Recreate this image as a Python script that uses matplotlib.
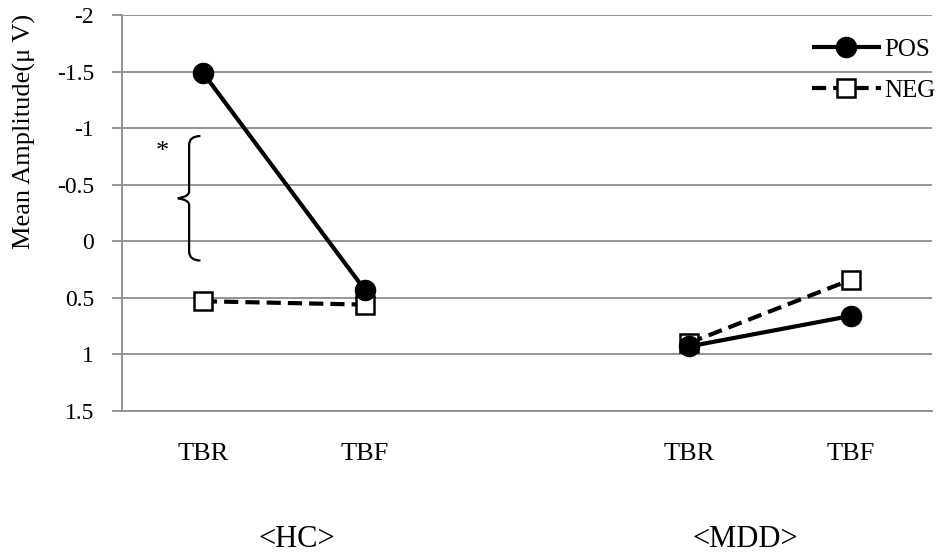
import matplotlib
matplotlib.use("Agg")
import matplotlib.pyplot as plt
from matplotlib.path import Path
from matplotlib.patches import PathPatch
from matplotlib.lines import Line2D

plt.rcParams['font.family'] = ['Liberation Serif', 'DejaVu Serif']

# Data
conditions = ["TBR", "TBF", "", "TBR", "TBF"]
groups = ["<HC>", "<MDD>"]
pos_hc = [-1.49, 0.43]
neg_hc = [0.53, 0.56]
pos_mdd = [0.93, 0.66]
neg_mdd = [0.90, 0.34]
yticks = [-2, -1.5, -1, -0.5, 0, 0.5, 1, 1.5]
ytick_labels = ["-2", "-1.5", "-1", "-0.5", "0", "0.5", "1", "1.5"]
ylabel = "Mean Amplitude(\u03bc V)"
sig_range = (-0.93, 0.17)

fig = plt.figure(figsize=(9.45, 5.55), dpi=100)
ax = fig.add_axes([0.129, 0.2595, 0.857, 0.7135])

x_hc = [0, 1]
x_mdd = [3, 4]
grid_c = "#8c8c8c"

line_kw_pos = dict(color="black", lw=3.0, marker="o", markersize=14.5, markerfacecolor="black",
                   markeredgecolor="black", solid_capstyle="butt")
line_kw_neg = dict(color="black", lw=3.0, ls=(0, (3.4, 1.7)), marker="s", markersize=13.5,
                   markerfacecolor="white", markeredgecolor="black", markeredgewidth=1.8)

ax.plot(x_hc, neg_hc, zorder=3, **line_kw_neg)
ax.plot(x_mdd, neg_mdd, zorder=3, **line_kw_neg)
ax.plot(x_hc, pos_hc, zorder=4, **line_kw_pos)
ax.plot(x_mdd, pos_mdd, zorder=4, **line_kw_pos)

ax.set_xlim(-0.5, 4.5)
ax.set_ylim(1.5, -2)
ax.set_yticks(yticks)
ax.set_yticklabels(ytick_labels, fontsize=17)
ax.set_xticks(range(len(conditions)))
ax.set_xticklabels(conditions, fontsize=19)
ax.tick_params(axis='x', length=0, pad=23)
ax.tick_params(axis='y', length=7, color=grid_c, width=1.3, pad=13)
ax.yaxis.grid(True, color=grid_c, lw=1.3)
ax.set_axisbelow(True)
for s in ["top", "right"]:
    ax.spines[s].set_visible(False)
for s in ["left", "bottom"]:
    ax.spines[s].set_color(grid_c)
    ax.spines[s].set_linewidth(1.3)

fig.text(24 / 945, 1 - 131 / 555, ylabel, rotation=90, ha="center", va="center", fontsize=19)

# group labels
for gx, g in zip([0.58, 3.35], groups):
    ax.text(gx, -0.343, g, transform=ax.get_xaxis_transform(), ha="center", va="baseline", fontsize=22)

# significance brace
y0, y1 = sig_range
ym = (y0 + y1) / 2
xe, xv, xt = -0.015, -0.085, -0.155
verts = [(xe, y0), (xv, y0), (xv, y0 + 0.08),
         (xv, ym - 0.06),
         (xv, ym - 0.01), (xt, ym), (xt, ym),
         (xt, ym), (xv, ym + 0.01), (xv, ym + 0.06),
         (xv, y1 - 0.08),
         (xv, y1), (xe, y1)]
codes = [Path.MOVETO, Path.CURVE3, Path.CURVE3,
         Path.LINETO,
         Path.CURVE4, Path.CURVE4, Path.CURVE4,
         Path.CURVE4, Path.CURVE4, Path.CURVE4,
         Path.LINETO,
         Path.CURVE3, Path.CURVE3]
ax.add_patch(PathPatch(Path(verts, codes), fill=False, lw=1.6, color="black", zorder=5))
ax.text(-0.25, -0.79, "*", ha="center", va="center", fontsize=19)

# legend
h_pos = Line2D([], [], **line_kw_pos)
h_neg = Line2D([], [], **line_kw_neg)
fig.legend([h_pos, h_neg], ["POS", "NEG"], loc="upper left",
           bbox_to_anchor=(812 / 945, 1 - 38 / 555), bbox_transform=fig.transFigure,
           frameon=False, fontsize=18, handlelength=2.75, handletextpad=0.15, labelspacing=0.75,
           borderpad=0.0, borderaxespad=0.0)

fig.savefig("out.png", dpi=100)
